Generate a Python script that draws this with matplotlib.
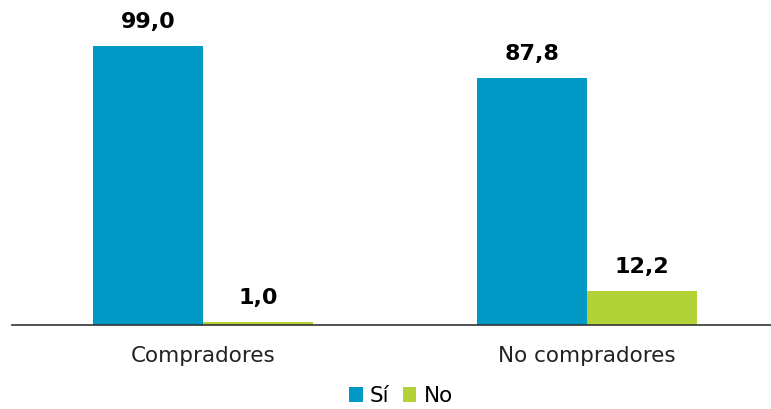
import matplotlib.pyplot as plt
import numpy as np

categorias = ['Compradores', 'No compradores']
si = [99.0, 87.8]
no = [1.0, 12.2]
series = ['Sí', 'No']
colores = ['#0098C4', '#B2D235']

fig = plt.figure(figsize=(7.71, 4.09), dpi=100)
ax = fig.add_axes([12 / 771, 84 / 409, 1 - 12 / 771, 0.74])

x = np.arange(len(categorias))
ancho = 0.286
barras_si = ax.bar(x - ancho / 2, si, ancho, color=colores[0], label=series[0])
barras_no = ax.bar(x + ancho / 2, no, ancho, color=colores[1], label=series[1])

for barras in (barras_si, barras_no):
    for b in barras:
        valor = b.get_height()
        ax.annotate(f'{valor:.1f}'.replace('.', ','),
                    (b.get_x() + b.get_width() / 2, valor),
                    xytext=(0, 10), textcoords='offset points',
                    ha='center', va='bottom', fontsize=16, fontweight='bold',
                    annotation_clip=False)

ax.set_xlim(-0.497, 1.479)
ax.set_ylim(0, 107.5)
ax.set_xticks(x)
ax.set_xticklabels(categorias, fontsize=15.5, color='#222222')
ax.tick_params(axis='x', length=0, pad=15)
ax.set_yticks([])
for lado in ['top', 'right', 'left']:
    ax.spines[lado].set_visible(False)
ax.spines['bottom'].set_color('#333333')
ax.spines['bottom'].set_linewidth(1.2)

fig.legend(loc='lower center', bbox_to_anchor=(0.52, -0.04), ncol=2, frameon=False,
           fontsize=15.5, handlelength=0.65, handleheight=0.65, handletextpad=0.35,
           columnspacing=0.6)

fig.savefig('out.png', dpi=100)
